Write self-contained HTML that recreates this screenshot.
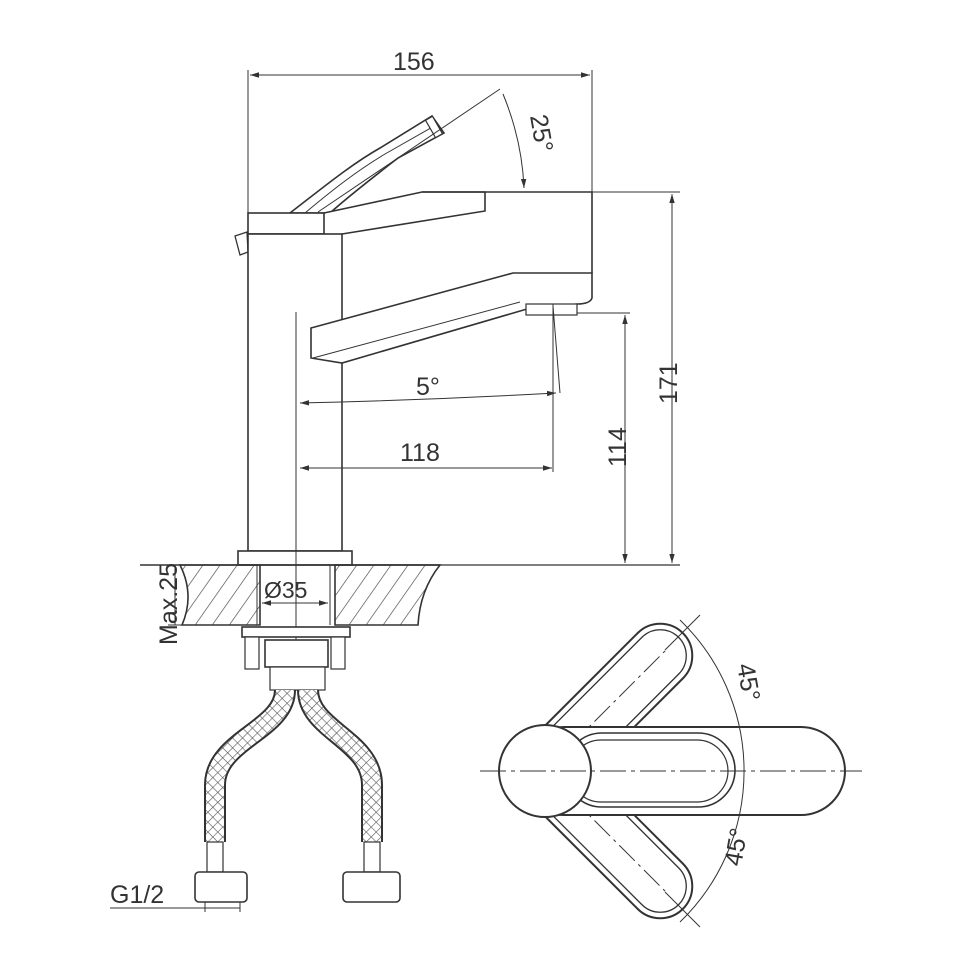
<!DOCTYPE html>
<html><head><meta charset="utf-8"><style>
html,body{margin:0;padding:0;background:#fff}
svg{display:block}
text{font-family:"Liberation Sans",sans-serif;fill:#333}
</style></head><body>
<svg width="970" height="970" viewBox="0 0 970 970" xmlns="http://www.w3.org/2000/svg">
<defs>
<pattern id="hatch" width="14" height="14" patternUnits="userSpaceOnUse" patternTransform="rotate(35)">
<line x1="0" y1="0" x2="0" y2="14" stroke="#444" stroke-width="1.3"/>
</pattern>
<pattern id="cross" width="7" height="7" patternUnits="userSpaceOnUse" patternTransform="rotate(45)">
<rect width="7" height="7" fill="#fff"/>
<line x1="0" y1="0" x2="7" y2="0" stroke="#555" stroke-width="1.2"/>
<line x1="0" y1="0" x2="0" y2="7" stroke="#555" stroke-width="1.2"/>
</pattern>
<marker id="ar" viewBox="0 0 10 10" refX="10" refY="5" markerWidth="9" markerHeight="9" orient="auto-start-reverse" markerUnits="userSpaceOnUse">
<path d="M0,2 L10,5 L0,8 z" fill="#333"/>
</marker>
</defs>
<g stroke="#333" stroke-width="1.6" fill="none">
<!-- 156 dim -->
<line x1="248" y1="70" x2="248" y2="215" stroke-width="1"/>
<line x1="592" y1="70" x2="592" y2="192" stroke-width="1"/>
<line x1="250" y1="75" x2="590" y2="75" stroke-width="1" marker-start="url(#ar)" marker-end="url(#ar)"/>
<!-- raised lever -->
<path d="M290,213 C320,190 350,165 380,148 L432,116 L444,133 L398,158 C380,172 350,195 330,213 Z" fill="#fff"/>
<path d="M305,213 C330,192 355,172 385,154 L436,125" stroke-width="1"/>
<rect x="430" y="117" width="8" height="20" transform="rotate(-30 434 127)" fill="#fff" stroke-width="1.2"/>
<!-- 25 deg -->
<line x1="318" y1="212" x2="500" y2="89" stroke-width="1"/>
<path d="M503,94 Q522,140 524,188" stroke-width="1" marker-end="url(#ar)"/>
<!-- body top -->
<path d="M324,213 L422,192 L592,192 L592,273 L342,300 L342,234 Z" fill="#fff" stroke="none"/>
<path d="M324,213 L422,192 L592,192 L592,273"/>
<path d="M422,192 L485,192 L485,211 L342,234" />
<line x1="485" y1="192" x2="680" y2="192" stroke-width="1"/>
<rect x="248" y="213" width="76" height="21" fill="#fff"/>
<path d="M235,236 L247,232 L248,252 L240,255 Z" fill="#fff" stroke-width="1.3"/>
<!-- stem -->
<rect x="248" y="234" width="94" height="317" fill="#fff"/>
<rect x="238" y="551" width="114" height="14" fill="#fff"/>
<!-- spout -->
<path d="M311,328 L513,273 L592,273 L592,298 Q590,304 577,304 L527,309 L342,363 L311,358 Z" fill="#fff"/>
<line x1="313" y1="358" x2="520" y2="302" stroke-width="1"/>
<rect x="526" y="304" width="51" height="11" fill="#fff" stroke-width="1.2"/>
<!-- centre lines -->
<line x1="296" y1="312" x2="296" y2="645" stroke-width="1"/>
<line x1="553" y1="304" x2="553" y2="472" stroke-width="1"/>
<line x1="553" y1="306" x2="560" y2="393" stroke-width="1"/>
<!-- 5 deg -->
<path d="M300,403 Q430,400 556,393" stroke-width="1" marker-start="url(#ar)" marker-end="url(#ar)"/>
<!-- 118 -->
<line x1="300" y1="468" x2="552" y2="468" stroke-width="1" marker-start="url(#ar)" marker-end="url(#ar)"/>
<!-- 114 -->
<line x1="577" y1="313" x2="630" y2="313" stroke-width="1"/>
<line x1="625" y1="315" x2="625" y2="563" stroke-width="1" marker-start="url(#ar)" marker-end="url(#ar)"/>
<!-- 171 -->
<line x1="672" y1="194" x2="672" y2="563" stroke-width="1" marker-start="url(#ar)" marker-end="url(#ar)"/>
<line x1="352" y1="565" x2="680" y2="565" stroke-width="1.2"/>
<!-- countertop -->
<path d="M180,565 L260,565 L260,625 L182,625 Q195,595 180,565 Z" fill="url(#hatch)"/>
<path d="M335,565 L440,565 Q420,590 418,625 L335,625 Z" fill="url(#hatch)"/>
<line x1="140" y1="565" x2="440" y2="565"/>
<line x1="257" y1="565" x2="257" y2="625" stroke-width="1"/>
<line x1="330" y1="565" x2="330" y2="625" stroke-width="1"/>
<line x1="175" y1="565" x2="175" y2="625" stroke-width="1"/>
<line x1="168" y1="625" x2="260" y2="625" stroke-width="1"/>
<line x1="262" y1="603" x2="328" y2="603" stroke-width="1" marker-start="url(#ar)" marker-end="url(#ar)"/>
<!-- nut assembly -->
<rect x="242" y="627" width="108" height="10" fill="#fff"/>
<rect x="245" y="637" width="14" height="32" fill="#fff" stroke-width="1.2"/>
<rect x="331" y="637" width="14" height="32" fill="#fff" stroke-width="1.2"/>
<rect x="265" y="640" width="63" height="27" fill="#fff"/>
<rect x="270" y="667" width="55" height="23" fill="#fff" stroke-width="1.2"/>
<!-- hoses -->
<path d="M285,690 C285,730 215,740 215,785 L215,842" stroke="#333" stroke-width="22"/>
<path d="M285,690 C285,730 215,740 215,785 L215,842" stroke="url(#cross)" stroke-width="18"/>
<path d="M308,690 C308,730 372,740 372,785 L372,842" stroke="#333" stroke-width="22"/>
<path d="M308,690 C308,730 372,740 372,785 L372,842" stroke="url(#cross)" stroke-width="18"/>
<rect x="207" y="842" width="16" height="30" fill="#fff" stroke-width="1.2"/>
<rect x="364" y="842" width="16" height="30" fill="#fff" stroke-width="1.2"/>
<rect x="195" y="872" width="52" height="30" rx="4" fill="#fff"/>
<rect x="343" y="872" width="57" height="30" rx="4" fill="#fff"/>
<line x1="110" y1="908" x2="240" y2="908" stroke-width="1"/>
<line x1="205" y1="902" x2="205" y2="912" stroke-width="1"/>
<line x1="240" y1="902" x2="240" y2="912" stroke-width="1"/>
<!-- top view: arms -->
<g transform="rotate(-45 545 771)">
<rect x="545" y="739" width="195" height="64" rx="32" fill="#fff" stroke-width="2"/>
<rect x="550" y="745" width="184" height="52" rx="26" stroke-width="1.3"/>
<line x1="580" y1="771" x2="720" y2="771" stroke-width="1" stroke-dasharray="22,5,3,5"/>
</g>
<g transform="rotate(45 545 771)">
<rect x="545" y="739" width="195" height="64" rx="32" fill="#fff" stroke-width="2"/>
<rect x="550" y="745" width="184" height="52" rx="26" stroke-width="1.3"/>
<line x1="580" y1="771" x2="720" y2="771" stroke-width="1" stroke-dasharray="22,5,3,5"/>
</g>
<rect x="520" y="727" width="325" height="88" rx="44" fill="#fff" stroke-width="2"/>
<rect x="565" y="733" width="170" height="74" rx="37" stroke-width="1.6"/>
<rect x="570" y="740" width="158" height="62" rx="31" stroke-width="1.2"/>
<circle cx="545" cy="771" r="46" fill="#fff" stroke-width="2"/>
<line x1="480" y1="771" x2="862" y2="771" stroke-width="1" stroke-dasharray="26,5,4,5"/>
<path d="M680,620 A210,210 0 0 1 680,922" stroke-width="1"/>
<line x1="665" y1="650" x2="700" y2="615" stroke-width="1"/>
<line x1="665" y1="892" x2="700" y2="927" stroke-width="1"/>
</g>
<g font-size="25">
<text x="393" y="70">156</text>
<text x="416" y="395">5°</text>
<text x="400" y="461">118</text>
<text transform="translate(530,116) rotate(80)">25°</text>
<text transform="translate(626,467) rotate(-90)">114</text>
<text transform="translate(677,404) rotate(-90)">171</text>
<text transform="translate(177,645) rotate(-90)">Max.25</text>
<text x="264" y="598" font-size="23">Ø35</text>
<text x="110" y="903">G1/2</text>
<text transform="translate(737,665) rotate(80)">45°</text>
<text transform="translate(741,867) rotate(-80)">45°</text>
</g>
</svg>
</body></html>
